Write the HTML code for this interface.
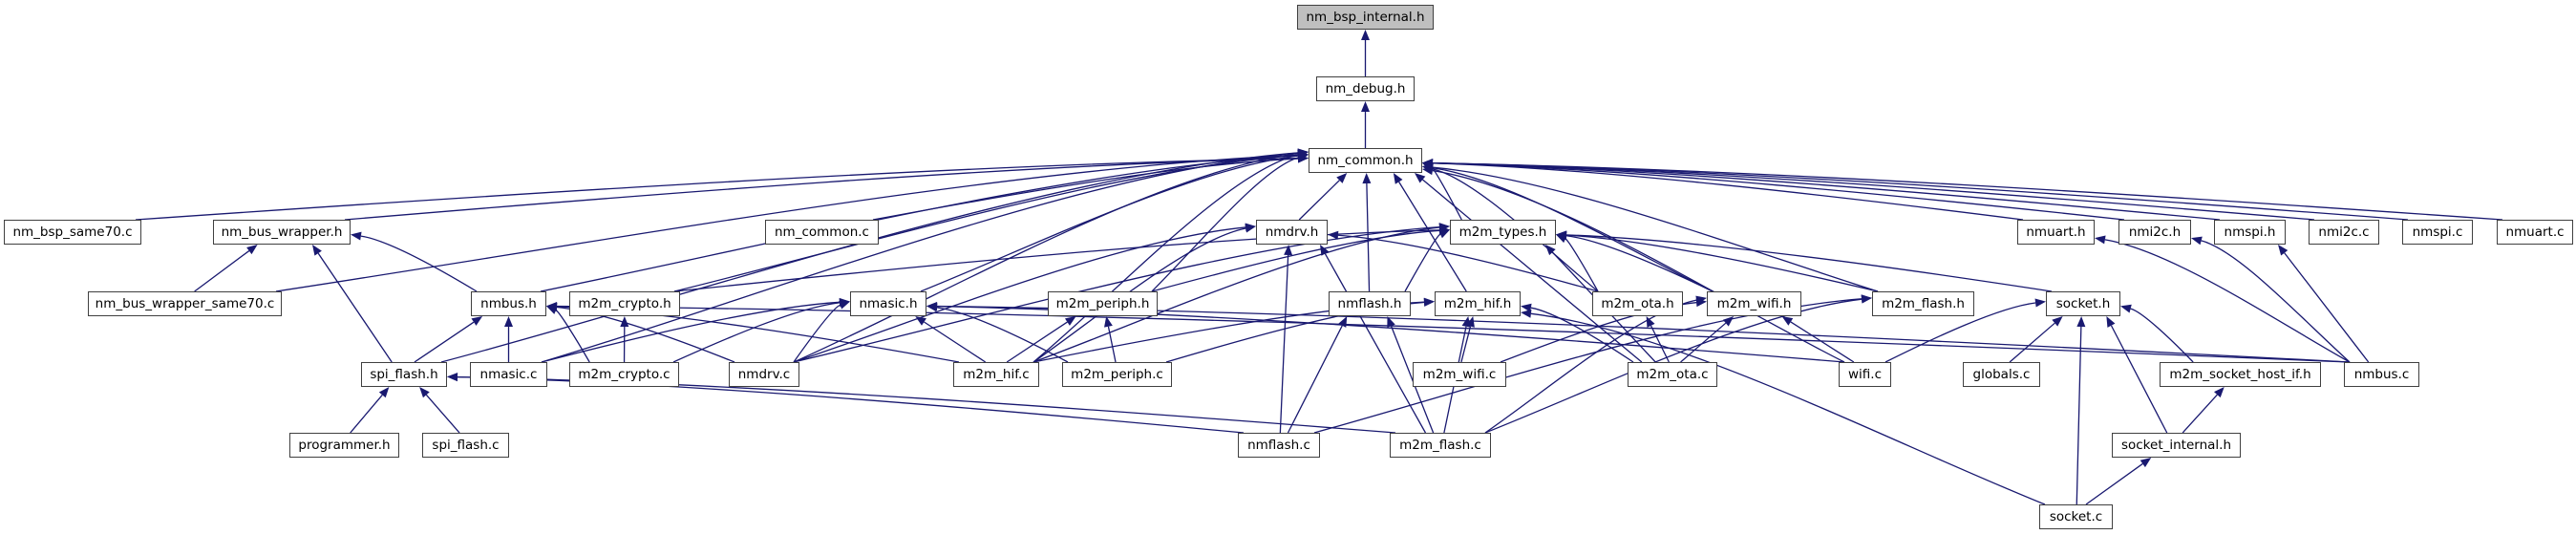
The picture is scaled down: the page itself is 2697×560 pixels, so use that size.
<!DOCTYPE html>
<html><head><meta charset="utf-8">
<style>
html,body{margin:0;padding:0;background:#fff;}
body{width:2697px;height:560px;position:relative;overflow:hidden;font-family:"DejaVu Sans","Liberation Sans",sans-serif;}
.n{position:absolute;box-sizing:border-box;border:1px solid #404040;background:#fff;font-size:13.5px;color:#000;text-align:center;line-height:24px;white-space:nowrap;}
.g{background:#bfbfbf;}
svg{position:absolute;left:0;top:0;}
</style></head><body>
<svg id="s" width="2697" height="560"></svg>
<div id="nodes">
<div class="n g" style="left:1358px;top:5px;width:143px;height:26px">nm_bsp_internal.h</div>
<div class="n" style="left:1378px;top:80px;width:103px;height:26px">nm_debug.h</div>
<div class="n" style="left:1370px;top:155px;width:119px;height:26px">nm_common.h</div>
<div class="n" style="left:4px;top:230px;width:144px;height:26px">nm_bsp_same70.c</div>
<div class="n" style="left:223px;top:230px;width:144px;height:26px">nm_bus_wrapper.h</div>
<div class="n" style="left:801px;top:230px;width:119px;height:26px">nm_common.c</div>
<div class="n" style="left:1315px;top:230px;width:75px;height:26px">nmdrv.h</div>
<div class="n" style="left:1518px;top:230px;width:111px;height:26px">m2m_types.h</div>
<div class="n" style="left:2112px;top:230px;width:81px;height:26px">nmuart.h</div>
<div class="n" style="left:2218px;top:230px;width:76px;height:26px">nmi2c.h</div>
<div class="n" style="left:2318px;top:230px;width:75px;height:26px">nmspi.h</div>
<div class="n" style="left:2417px;top:230px;width:74px;height:26px">nmi2c.c</div>
<div class="n" style="left:2515px;top:230px;width:74px;height:26px">nmspi.c</div>
<div class="n" style="left:2614px;top:230px;width:80px;height:26px">nmuart.c</div>
<div class="n" style="left:92px;top:305px;width:203px;height:26px">nm_bus_wrapper_same70.c</div>
<div class="n" style="left:493px;top:305px;width:79px;height:26px">nmbus.h</div>
<div class="n" style="left:596px;top:305px;width:116px;height:26px">m2m_crypto.h</div>
<div class="n" style="left:890px;top:305px;width:80px;height:26px">nmasic.h</div>
<div class="n" style="left:1097px;top:305px;width:115px;height:26px">m2m_periph.h</div>
<div class="n" style="left:1391px;top:305px;width:86px;height:26px">nmflash.h</div>
<div class="n" style="left:1502px;top:305px;width:90px;height:26px">m2m_hif.h</div>
<div class="n" style="left:1667px;top:305px;width:95px;height:26px">m2m_ota.h</div>
<div class="n" style="left:1787px;top:305px;width:99px;height:26px">m2m_wifi.h</div>
<div class="n" style="left:1960px;top:305px;width:107px;height:26px">m2m_flash.h</div>
<div class="n" style="left:2142px;top:305px;width:78px;height:26px">socket.h</div>
<div class="n" style="left:378px;top:379px;width:90px;height:26px">spi_flash.h</div>
<div class="n" style="left:492px;top:379px;width:81px;height:26px">nmasic.c</div>
<div class="n" style="left:596px;top:379px;width:115px;height:26px">m2m_crypto.c</div>
<div class="n" style="left:763px;top:379px;width:74px;height:26px">nmdrv.c</div>
<div class="n" style="left:998px;top:379px;width:90px;height:26px">m2m_hif.c</div>
<div class="n" style="left:1112px;top:379px;width:115px;height:26px">m2m_periph.c</div>
<div class="n" style="left:1479px;top:379px;width:98px;height:26px">m2m_wifi.c</div>
<div class="n" style="left:1704px;top:379px;width:94px;height:26px">m2m_ota.c</div>
<div class="n" style="left:1925px;top:379px;width:55px;height:26px">wifi.c</div>
<div class="n" style="left:2055px;top:379px;width:81px;height:26px">globals.c</div>
<div class="n" style="left:2261px;top:379px;width:169px;height:26px">m2m_socket_host_if.h</div>
<div class="n" style="left:2454px;top:379px;width:79px;height:26px">nmbus.c</div>
<div class="n" style="left:303px;top:453px;width:115px;height:26px">programmer.h</div>
<div class="n" style="left:442px;top:453px;width:91px;height:26px">spi_flash.c</div>
<div class="n" style="left:1296px;top:453px;width:86px;height:26px">nmflash.c</div>
<div class="n" style="left:1455px;top:453px;width:106px;height:26px">m2m_flash.c</div>
<div class="n" style="left:2211px;top:453px;width:135px;height:26px">socket_internal.h</div>
<div class="n" style="left:2135px;top:528px;width:77px;height:26px">socket.c</div>
</div>
<script>
var N={};
document.querySelectorAll('.n').forEach(function(d){
 var x=parseFloat(d.style.left),y=parseFloat(d.style.top),w=parseFloat(d.style.width),h=parseFloat(d.style.height);
 N[d.textContent]={x:x,y:y,w:w,h:h,cx:x+w/2};
});
var E=[
['nm_debug.h','nm_bsp_internal.h'],['nm_common.h','nm_debug.h'],
['nm_bsp_same70.c','nm_common.h'],['nm_bus_wrapper.h','nm_common.h'],['nm_bus_wrapper_same70.c','nm_common.h'],
['nm_common.c','nm_common.h'],['nmdrv.h','nm_common.h'],['m2m_types.h','nm_common.h'],['nmuart.h','nm_common.h'],
['nmi2c.h','nm_common.h'],['nmspi.h','nm_common.h'],['nmi2c.c','nm_common.h'],['nmspi.c','nm_common.h'],['nmuart.c','nm_common.h'],
['nmbus.h','nm_common.h'],['m2m_crypto.h','nm_common.h'],['nmasic.h','nm_common.h'],['m2m_periph.h','nm_common.h'],
['nmflash.h','nm_common.h'],['m2m_hif.h','nm_common.h'],['m2m_ota.h','nm_common.h'],['m2m_wifi.h','nm_common.h'],
['m2m_flash.h','nm_common.h'],['spi_flash.h','nm_common.h'],['nmasic.c','nm_common.h'],['nmdrv.c','nm_common.h'],
['m2m_hif.c','nm_common.h'],['m2m_ota.c','nm_common.h'],['wifi.c','nm_common.h'],
['nm_bus_wrapper_same70.c','nm_bus_wrapper.h'],['spi_flash.h','nm_bus_wrapper.h'],['nmbus.h','nm_bus_wrapper.h'],
['spi_flash.h','nmbus.h'],['nmasic.c','nmbus.h'],['m2m_crypto.c','nmbus.h'],['nmdrv.c','nmbus.h'],['m2m_hif.c','nmbus.h'],['nmbus.c','nmbus.h'],
['m2m_crypto.c','m2m_crypto.h'],
['nmasic.c','nmasic.h'],['m2m_crypto.c','nmasic.h'],['nmdrv.c','nmasic.h'],['m2m_hif.c','nmasic.h'],['m2m_periph.c','nmasic.h'],['nmbus.c','nmasic.h'],['wifi.c','nmasic.h'],
['m2m_hif.c','m2m_periph.h'],['m2m_periph.c','m2m_periph.h'],
['nmdrv.c','nmdrv.h'],['m2m_hif.c','nmdrv.h'],['nmflash.c','nmdrv.h'],['m2m_flash.c','nmdrv.h'],['m2m_ota.h','nmdrv.h'],
['nmdrv.c','m2m_types.h'],['m2m_crypto.h','m2m_types.h'],['m2m_hif.c','m2m_types.h'],['m2m_periph.h','m2m_types.h'],['nmflash.h','m2m_types.h'],
['m2m_ota.h','m2m_types.h'],['m2m_wifi.h','m2m_types.h'],['m2m_flash.h','m2m_types.h'],['socket.h','m2m_types.h'],['m2m_ota.c','m2m_types.h'],
['nmflash.c','nmflash.h'],['m2m_flash.c','nmflash.h'],
['m2m_wifi.c','m2m_hif.h'],['m2m_flash.c','m2m_hif.h'],['m2m_ota.c','m2m_hif.h'],['socket.c','m2m_hif.h'],['m2m_hif.c','m2m_hif.h'],['m2m_periph.c','m2m_hif.h'],
['m2m_ota.c','m2m_ota.h'],
['m2m_ota.c','m2m_wifi.h'],['wifi.c','m2m_wifi.h'],['m2m_flash.c','m2m_wifi.h'],['m2m_wifi.c','m2m_wifi.h'],
['nmflash.c','m2m_flash.h'],['m2m_flash.c','m2m_flash.h'],
['globals.c','socket.h'],['socket.c','socket.h'],['socket_internal.h','socket.h'],['m2m_socket_host_if.h','socket.h'],['wifi.c','socket.h'],
['socket_internal.h','m2m_socket_host_if.h'],['socket.c','socket_internal.h'],
['nmbus.c','nmuart.h'],['nmbus.c','nmi2c.h'],['nmbus.c','nmspi.h'],
['programmer.h','spi_flash.h'],['spi_flash.c','spi_flash.h'],['m2m_flash.c','spi_flash.h'],['nmflash.c','spi_flash.h']
];
var col='#191970',out='';
E.forEach(function(e){
 var c=N[e[0]],p=N[e[1]];if(!c||!p)return;
 var dx=c.cx-p.cx,dy=c.y-(p.y+p.h);
 var sx,sy=c.y,ex,ey,c1x,c1y,c2x,c2y;
 if(Math.abs(dx)>p.w*0.5+dy*1.6){
  var sg=dx<0?-1:1;
  sx=c.cx-sg*Math.min(c.w/2-6,Math.abs(dx)*0.3);
  ex=sg<0?p.x:p.x+p.w; ey=p.y+p.h/2+Math.max(-9,Math.min(9,dy*0.05*sg));
  c1x=sx+(ex-sx)*0.3;c1y=sy+(ey-sy)*0.3-6;
  c2x=sx+(ex-sx)*0.7;c2y=ey+(sy-ey)*0.1;
 } else {
  sx=c.cx+Math.max(-c.w/2+8,Math.min(c.w/2-8,-dx*0.1));
  ex=p.cx+Math.max(-p.w/2+8,Math.min(p.w/2-8,dx*0.25));ey=p.y+p.h;
  c1x=sx+(ex-sx)*0.33;c1y=sy+(ey-sy)*0.33;c2x=sx+(ex-sx)*0.67;c2y=sy+(ey-sy)*0.67;
 }
 var ax=ex-c2x,ay=ey-c2y,L=Math.sqrt(ax*ax+ay*ay)||1;ax/=L;ay/=L;
 var bx=ex-ax*11,by=ey-ay*11,px=-ay*4.5,py=ax*4.5;
 out+='<path d="M'+sx+','+sy+' C'+c1x+','+c1y+' '+c2x+','+c2y+' '+bx+','+by+'" fill="none" stroke="'+col+'" stroke-width="1.3"/>';
 out+='<polygon points="'+ex+','+ey+' '+(bx+px)+','+(by+py)+' '+(bx-px)+','+(by-py)+'" fill="'+col+'"/>';
});
document.getElementById('s').innerHTML=out;
</script>
</body></html>
